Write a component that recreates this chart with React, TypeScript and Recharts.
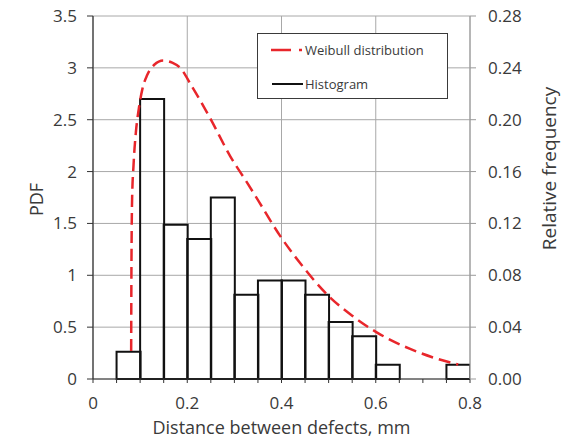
import React from 'react';
import { ComposedChart, Bar, Line, XAxis, YAxis, CartesianGrid, Legend } from 'recharts';

// Histogram: bin centres (mm) and relative frequency
const binCenters = [0.025, 0.075, 0.125, 0.175, 0.225, 0.275, 0.325, 0.375, 0.425, 0.475, 0.525, 0.575, 0.625, 0.675, 0.725, 0.775];
const relFreq = [0, 0.021, 0.216, 0.119, 0.108, 0.14, 0.065, 0.076, 0.076, 0.065, 0.044, 0.033, 0.011, 0, 0, 0.011];

// Weibull PDF curve
const weibullX = [0.081, 0.0815, 0.083, 0.086, 0.091, 0.097, 0.105, 0.115, 0.13, 0.149, 0.168, 0.185, 0.21, 0.248, 0.291, 0.326, 0.344, 0.397, 0.439, 0.5, 0.55, 0.602, 0.673, 0.72, 0.775];
const weibullPdf = [0.27, 1.0, 1.74, 2.06, 2.38, 2.6, 2.8, 2.93, 3.03, 3.07, 3.05, 3.0, 2.82, 2.52, 2.15, 1.9, 1.77, 1.38, 1.12, 0.8, 0.61, 0.45, 0.29, 0.21, 0.14];

// Axis ticks
const xTicks = [0, 0.05, 0.1, 0.15, 0.2, 0.25, 0.3, 0.35, 0.4, 0.45, 0.5, 0.55, 0.6, 0.65, 0.7, 0.75, 0.8];
const xMajorTicks = [0, 0.2, 0.4, 0.6, 0.8];
const xTickLabels = ['0', '0.2', '0.4', '0.6', '0.8'];
const pdfTicks = [0, 0.5, 1, 1.5, 2, 2.5, 3, 3.5];
const pdfTickLabels = ['0', '0.5', '1', '1.5', '2', '2.5', '3', '3.5'];
const freqTicks = [0, 0.04, 0.08, 0.12, 0.16, 0.2, 0.24, 0.28];
const freqTickLabels = ['0.00', '0.04', '0.08', '0.12', '0.16', '0.20', '0.24', '0.28'];

const seriesNames = { curve: 'Weibull distribution', hist: 'Histogram' };
const titles = { x: 'Distance between defects, mm', left: 'PDF', right: 'Relative frequency' };

const histData = binCenters.map((x, i) => ({ x, freq: relFreq[i] }));
const curveData = weibullX.map((x, i) => ({ x, pdf: weibullPdf[i] }));

const FONT = '"Open Sans", sans-serif';
const TEXT = '#3a3a3a';
const RED = '#e8262b';

const fmtFrom = (ticks: number[], labels: string[]) => (v: number) => {
  const i = ticks.findIndex((t) => Math.abs(t - v) < 1e-9);
  return i >= 0 ? labels[i] : '';
};

const AxisTitle = (props: any) => {
  const { viewBox, text, ox, oy, rot, size, shiftY } = props;
  if (!viewBox) return null;
  const x = viewBox.x + ox;
  const y = viewBox.y + (oy === 'mid' ? viewBox.height / 2 : 0) + (shiftY || 0);
  return (
    <text
      x={x}
      y={y}
      textAnchor="middle"
      dominantBaseline={rot ? 'central' : 'alphabetic'}
      transform={rot ? `rotate(${rot}, ${x}, ${y})` : undefined}
      fill={TEXT}
      fontSize={size}
      fontFamily={FONT}
    >
      {text}
    </text>
  );
};

const LegendBox = () => (
  <div
    style={{
      width: 191,
      height: 66,
      boxSizing: 'border-box',
      border: '1px solid #3a3a3a',
      background: '#fff',
      fontFamily: FONT,
      fontSize: 13,
      color: TEXT,
      position: 'relative',
    }}
  >
    <svg width={50} height={66} style={{ position: 'absolute', left: 0, top: 0 }}>
      <line x1={13} y1={16} x2={33} y2={16} stroke={RED} strokeWidth={2.5} />
      <line x1={41} y1={16} x2={44} y2={16} stroke={RED} strokeWidth={2.5} />
      <line x1={14} y1={50} x2={45} y2={50} stroke="#111" strokeWidth={2} />
    </svg>
    <div style={{ position: 'absolute', left: 47, top: 6, lineHeight: '20px', whiteSpace: 'nowrap' }}>{seriesNames.curve}</div>
    <div style={{ position: 'absolute', left: 47, top: 40, lineHeight: '20px', whiteSpace: 'nowrap' }}>{seriesNames.hist}</div>
  </div>
);

export default function App() {
  return (
    <div style={{ position: 'absolute', left: 0, top: 0, background: '#fff' }}>
      <ComposedChart
        width={569}
        height={439}
        data={histData}
        margin={{ top: 16, right: 39, bottom: 10, left: 33 }}
        barCategoryGap={0}
        barGap={0}
      >
        <CartesianGrid
          yAxisId="left"
          stroke="#a8a8a8"
          strokeWidth={1}
          verticalValues={xMajorTicks}
          horizontalValues={pdfTicks}
          syncWithTicks
        />
        <XAxis
          dataKey="x"
          type="number"
          domain={[0, 0.8]}
          allowDataOverflow
          ticks={xTicks}
          interval={0}
          tickFormatter={fmtFrom(xMajorTicks, xTickLabels)}
          height={50}
          tickSize={4}
          tickMargin={14}
          tick={{ fill: TEXT, fontSize: 17, fontFamily: FONT }}
          axisLine={{ stroke: '#333', strokeWidth: 1.2 }}
          tickLine={{ stroke: '#333' }}
          label={<AxisTitle text={titles.x} ox={188.5} oy="top" shiftY={55} size={18} />}
        />
        <XAxis xAxisId="curve" dataKey="x" type="number" domain={[0, 0.8]} allowDataOverflow hide />
        <YAxis
          yAxisId="left"
          orientation="left"
          type="number"
          domain={[0, 3.5]}
          ticks={pdfTicks}
          interval={0}
          tickFormatter={fmtFrom(pdfTicks, pdfTickLabels)}
          width={60}
          tickSize={6}
          tickMargin={10}
          tick={{ fill: TEXT, fontSize: 17, fontFamily: FONT }}
          axisLine={{ stroke: '#333', strokeWidth: 1.2 }}
          tickLine={{ stroke: '#333' }}
          label={<AxisTitle text={titles.left} ox={3} oy="mid" shiftY={2} rot={-90} size={18} />}
        />
        <YAxis
          yAxisId="right"
          orientation="right"
          type="number"
          domain={[0, 0.28]}
          ticks={freqTicks}
          interval={0}
          tickFormatter={fmtFrom(freqTicks, freqTickLabels)}
          width={60}
          tickSize={6}
          tickMargin={12}
          tick={{ fill: TEXT, fontSize: 17, fontFamily: FONT }}
          axisLine={{ stroke: '#999' }}
          tickLine={{ stroke: '#999' }}
          label={<AxisTitle text={titles.right} ox={79} oy="mid" shiftY={-29} rot={-90} size={19} />}
        />
        <Bar
          yAxisId="right"
          dataKey="freq"
          name={seriesNames.hist}
          fill="none"
          stroke="#111"
          strokeWidth={2}
          isAnimationActive={false}
        />
        <Line
          xAxisId="curve"
          yAxisId="left"
          data={curveData}
          dataKey="pdf"
          name={seriesNames.curve}
          type="monotone"
          stroke={RED}
          strokeWidth={2.5}
          strokeDasharray="12 6"
          dot={false}
          activeDot={false}
          isAnimationActive={false}
        />
        <Legend
          layout="vertical"
          align="center"
          verticalAlign="middle"
          content={<LegendBox />}
          wrapperStyle={{ left: 257, top: 33, width: 191, height: 66 }}
        />
      </ComposedChart>
    </div>
  );
}
